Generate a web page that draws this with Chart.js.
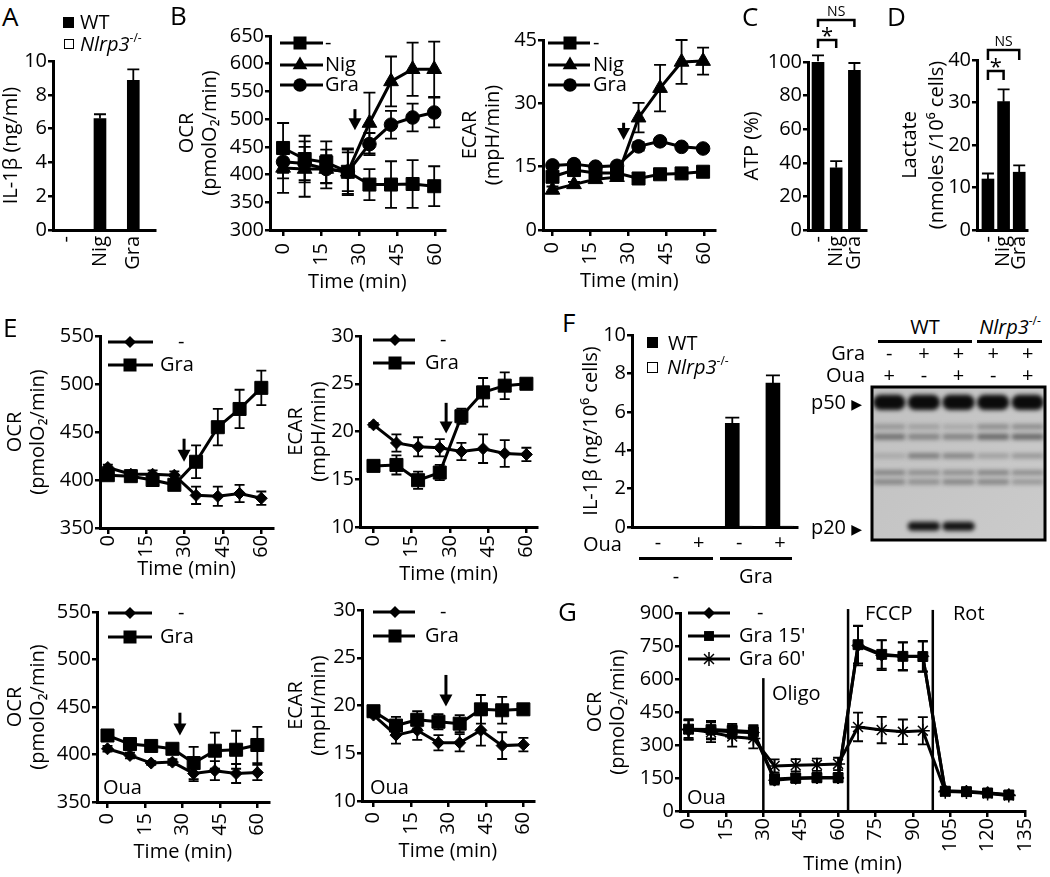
<!DOCTYPE html>
<html>
<head>
<meta charset="utf-8">
<title>Figure</title>
<script src="https://cdn.jsdelivr.net/npm/chart.js@4.4.1/dist/chart.umd.min.js"></script>
<style>
  html, body { margin: 0; background: #fff; }
  body { position: relative; width: 1050px; height: 877px; overflow: hidden; font-family: 'Open Sans', 'DejaVu Sans', sans-serif; color: #000; }
  canvas { position: absolute; }
  .t { position: absolute; font-size: 20px; line-height: 1; white-space: nowrap; }
  .t sup { font-size: 0.6em; line-height: 0; vertical-align: 0.75em; }
  .sq { position: absolute; box-sizing: border-box; background: #000; }
</style>
</head>
<body>
<script>
// ---- values ----
const minutesB = [0, 8.5, 17, 25.5, 34, 42.5, 51, 59.5];
const minutesE = [0, 9, 17.5, 26, 34.5, 43, 51.5, 60];
const minutesG = [0, 9, 17.5, 26, 34.5, 43, 51.5, 60, 68, 77.5, 86, 94, 103, 111.5, 120, 128.5];
const ticks60 = [0, 15, 30, 45, 60];
const ticks135 = [0, 15, 30, 45, 60, 75, 90, 105, 120, 135];
const treatments = ['-', 'Nig', 'Gra'];
const ouaRow = ['-', '+', '-', '+'];

// A  IL-1b
const aWT = [0, 6.6, 8.85];
const aWTErr = [0, 0.25, 0.65];
const aKO = [0, 0, 0];
const aTicks = [0, 2, 4, 6, 8, 10];

// B  OCR / ECAR
const bOcrTicks = [300, 350, 400, 450, 500, 550, 600, 650];
const bOcrCtrl = [448, 428, 422, 405, 382, 382, 383, 379];
const bOcrCtrlErr = [45, 42, 38, 42, 28, 42, 43, 36];
const bOcrNig = [412, 410, 410, 405, 493, 568, 590, 590];
const bOcrNigErr = [45, 50, 35, 40, 55, 45, 48, 50];
const bOcrGra = [423, 420, 410, 405, 455, 490, 503, 512];
const bOcrGraErr = [30, 30, 25, 35, 20, 25, 25, 27];
const bEcarTicks = [0, 15, 30, 45];
const bEcarCtrl = [12.6, 14.2, 13.5, 13.5, 12.2, 13.2, 13.4, 13.8];
const bEcarCtrlErr = [0.8, 0.8, 0.8, 0.8, 0.6, 0.6, 0.6, 0.6];
const bEcarNig = [9.5, 10.8, 12.0, 12.5, 26.6, 33.6, 39.8, 40.0];
const bEcarNigErr = [0.8, 0.6, 0.6, 0.6, 3.5, 5.5, 5.2, 3.2];
const bEcarGra = [15.3, 15.6, 15.0, 15.2, 19.8, 21.0, 19.7, 19.3];
const bEcarGraErr = [0.5, 0.5, 0.5, 0.5, 1.0, 0.8, 0.6, 0.6];

// C  ATP, D  lactate
const cAtp = [100.5, 37, 95];
const cAtpErr = [3.5, 4, 4.4];
const cTicks = [0, 20, 40, 60, 80, 100];
const dLac = [12, 30.2, 13.6];
const dLacErr = [1.3, 2.9, 1.6];
const dTicks = [0, 10, 20, 30, 40];

// E  OCR / ECAR without and with ouabain
const eOcrTicks = [350, 400, 450, 500, 550];
const eEcarTicks = [10, 15, 20, 25, 30];
const e1Ctrl = [413, 406, 406, 405, 384, 383, 386, 381];
const e1CtrlErr = [3, 4, 4, 4, 9, 10, 9, 7];
const e1Gra = [405, 404, 400, 395, 419, 455, 474, 496];
const e1GraErr = [3, 3, 3, 4, 17, 19, 20, 18];
const e2Ctrl = [20.7, 18.8, 18.4, 18.3, 17.9, 18.2, 17.7, 17.6];
const e2CtrlErr = [0.2, 0.9, 1.0, 0.9, 0.9, 1.5, 1.4, 0.7];
const e2Gra = [16.4, 16.5, 14.9, 15.7, 21.6, 24.1, 24.8, 25.0];
const e2GraErr = [0.2, 1.0, 0.9, 0.8, 0.8, 1.5, 1.4, 0.3];
const e3Ctrl = [406, 399, 391, 392, 380, 383, 380, 381];
const e3CtrlErr = [3, 3, 2, 3, 8, 10, 10, 8];
const e3Gra = [420, 411, 409, 406, 391, 404, 405, 410];
const e3GraErr = [3, 3, 3, 3, 17, 19, 20, 19];
const e4Ctrl = [19.0, 16.9, 17.4, 16.1, 16.1, 17.4, 15.8, 15.9];
const e4CtrlErr = [0.2, 0.9, 1.0, 0.8, 0.9, 1.6, 1.4, 0.7];
const e4Gra = [19.4, 17.9, 18.5, 18.3, 18.1, 19.6, 19.5, 19.6];
const e4GraErr = [0.3, 0.9, 0.9, 0.8, 0.9, 1.5, 1.4, 0.5];

// F  IL-1b with ouabain + blot
const fWT = [0, 0, 5.4, 7.5];
const fWTErr = [0, 0, 0.3, 0.4];
const fKO = [0, 0, 0.05, 0.05];
const fTicks = [0, 2, 4, 6, 8, 10];
const blotLanes = ['1', '2', '3', '4', '5'];
const blotGra = ['-', '+', '+', '+', '+'];
const blotOua = ['+', '-', '+', '-', '+'];
const bandPos = [10, 26, 32.5, 45, 56, 62, 91];       // % of gel height
const bandSize = [10, 3.5, 4, 3.5, 3.5, 3.5, 6];
const bandDensity = [
  [1, 1, 1, 1, 1],              // p50
  [0.25, 0.2, 0.15, 0.3, 0.3],
  [0.45, 0.35, 0.35, 0.5, 0.5],
  [0.15, 0.4, 0.35, 0.2, 0.25],
  [0.35, 0.3, 0.3, 0.35, 0.3],
  [0.35, 0.3, 0.35, 0.35, 0.25],
  [0, 0.95, 0.95, 0, 0]         // p20
];

// G  mito stress test
const gTicks = [0, 150, 300, 450, 600, 750, 900];
const gCtrl = [368, 366, 360, 356, 140, 148, 150, 150, 752, 708, 703, 703, 92, 89, 83, 74];
const gCtrlErr = [45, 40, 30, 30, 20, 20, 20, 20, 90, 68, 65, 70, 15, 15, 12, 15];
const gGra15 = [372, 370, 366, 360, 146, 150, 152, 152, 756, 712, 703, 702, 90, 88, 82, 73];
const gGra15Err = [45, 40, 30, 30, 20, 20, 20, 20, 85, 65, 62, 68, 15, 15, 12, 15];
const gGra60 = [372, 358, 338, 330, 205, 208, 210, 214, 382, 368, 360, 365, 88, 86, 80, 70];
const gGra60Err = [40, 45, 45, 45, 30, 28, 28, 28, 65, 60, 56, 62, 18, 15, 12, 15];

// ---- setup ----
const FONT = "'Open Sans', 'DejaVu Sans', sans-serif";
const FS = 20;
Chart.defaults.font.family = FONT;
Chart.defaults.font.size = FS;
Chart.defaults.color = '#000';
Chart.defaults.animation = false;
Chart.defaults.plugins.legend.display = false;
Chart.defaults.plugins.tooltip.enabled = false;

function mark(ctx, style, x, y, r) {
  ctx.beginPath();
  if (style == 'rect') {
    const s = r * Math.SQRT1_2;
    ctx.rect(x - s, y - s, 2 * s, 2 * s); ctx.fill();
  } else if (style == 'circle') {
    ctx.arc(x, y, r, 0, 2 * Math.PI); ctx.fill();
  } else if (style == 'triangle') {
    for (let k = 0; k < 3; k++) {
      const a = k * 2 * Math.PI / 3;
      ctx[k ? 'lineTo' : 'moveTo'](x + Math.sin(a) * r, y - Math.cos(a) * r);
    }
    ctx.closePath(); ctx.fill();
  } else if (style == 'rectRot') {
    ctx.moveTo(x - r, y); ctx.lineTo(x, y - r); ctx.lineTo(x + r, y); ctx.lineTo(x, y + r);
    ctx.closePath(); ctx.fill();
  } else if (style == 'star') {
    ctx.lineWidth = 1.5;
    for (let k = 0; k < 4; k++) {
      const a = k * Math.PI / 4;
      ctx.moveTo(x - Math.cos(a) * r, y - Math.sin(a) * r);
      ctx.lineTo(x + Math.cos(a) * r, y + Math.sin(a) * r);
    }
    ctx.stroke();
  }
}

// error bars (both ways for lines, upward only for bars)
const errorBars = {
  id: 'errorBars',
  beforeDatasetsDraw(chart) {
    const ctx = chart.ctx, ys = chart.scales.y;
    chart.data.datasets.forEach((ds, i) => {
      if (!ds.err) return;
      const pts = chart.getDatasetMeta(i).data;
      ctx.save();
      ctx.strokeStyle = '#000';
      ctx.lineWidth = 1.8;
      ds.data.forEach((d, j) => {
        const e = ds.err[j];
        if (!e) return;
        const px = pts[j].x, cap = ds.cap / 2;
        const top = ys.getPixelForValue(d.y + e);
        const bot = ds.upOnly ? ys.getPixelForValue(d.y) : ys.getPixelForValue(d.y - e);
        ctx.beginPath();
        ctx.moveTo(px, top); ctx.lineTo(px, bot);
        ctx.moveTo(px - cap, top); ctx.lineTo(px + cap, top);
        if (!ds.upOnly) { ctx.moveTo(px - cap, bot); ctx.lineTo(px + cap, bot); }
        ctx.stroke();
      });
      ctx.restore();
    });
  }
};

// arrows, injection lines, brackets, line legends, gel background
const decor = {
  id: 'decor',
  beforeDatasetsDraw(chart, args, o) {
    if (!o.gel) return;
    const {ctx, chartArea: a} = chart;
    ctx.save();
    const g = ctx.createLinearGradient(a.left, a.top, a.right, a.bottom);
    g.addColorStop(0, '#c1c1c1'); g.addColorStop(1, '#cbcbcb');
    ctx.fillStyle = g;
    ctx.fillRect(a.left, a.top, a.right - a.left, a.bottom - a.top);
    ctx.filter = 'blur(2.2px)';
  },
  afterDatasetsDraw(chart, args, o) {
    const {ctx, chartArea: a, scales} = chart;
    if (o.gel) {
      ctx.restore();
      ctx.save();
      ctx.lineWidth = 3; ctx.strokeStyle = '#000';
      ctx.strokeRect(a.left, a.top, a.right - a.left, a.bottom - a.top);
      ctx.restore();
      return;
    }
    ctx.save();
    ctx.strokeStyle = '#000'; ctx.fillStyle = '#000';
    (o.arrows || []).forEach(ar => {
      const x = scales.x.getPixelForValue(ar.x);
      const y0 = scales.y.getPixelForValue(ar.y0), y1 = scales.y.getPixelForValue(ar.y1);
      ctx.lineWidth = 3;
      ctx.beginPath(); ctx.moveTo(x, y0); ctx.lineTo(x, y1 - 9); ctx.stroke();
      ctx.beginPath(); ctx.moveTo(x - 6.5, y1 - 12); ctx.lineTo(x + 6.5, y1 - 12); ctx.lineTo(x, y1);
      ctx.closePath(); ctx.fill();
    });
    (o.vlines || []).forEach(v => {
      const x = scales.x.getPixelForValue(v.x);
      ctx.lineWidth = 2.5;
      ctx.beginPath();
      ctx.moveTo(x, scales.y.getPixelForValue(v.y0));
      ctx.lineTo(x, scales.y.getPixelForValue(v.y1));
      ctx.stroke();
    });
    (o.brackets || []).forEach(b => {
      const xa = scales.x.getPixelForValue(b.a), xb = scales.x.getPixelForValue(b.b), y = a.top + b.y;
      ctx.lineWidth = 2.5;
      ctx.beginPath();
      ctx.moveTo(xa, y + b.leg); ctx.lineTo(xa, y); ctx.lineTo(xb, y); ctx.lineTo(xb, y + b.leg);
      ctx.stroke();
      ctx.font = b.size + 'px ' + FONT;
      ctx.textAlign = 'center'; ctx.textBaseline = 'middle';
      ctx.fillText(b.label, (xa + xb) / 2, y + b.dy);
    });
    if (o.legend) {
      const L = o.legend;
      ctx.font = FS + 'px ' + FONT;
      ctx.textAlign = 'left'; ctx.textBaseline = 'middle';
      L.items.forEach(it => {
        const ds = chart.data.datasets[it.ds], y = a.top + it.y;
        ctx.lineWidth = 3;
        ctx.beginPath(); ctx.moveTo(a.left + L.x0, y); ctx.lineTo(a.left + L.x1, y); ctx.stroke();
        mark(ctx, ds.pointStyle, a.left + L.xm, y, ds.pointRadius);
        ctx.fillText(it.t, a.left + (it.xt || L.xt), y);
      });
    }
    ctx.restore();
  }
};

function linAxis(min, max, ticks, title, o = {}) {
  return {
    type: 'linear', min, max, offset: false,
    afterBuildTicks: s => { s.ticks = ticks.map(v => ({value: v})); },
    border: {display: true, width: 3, color: '#000'},
    grid: {display: o.marks !== false, drawOnChartArea: false, drawTicks: o.marks !== false,
           tickLength: o.tl || 5, lineWidth: 2.5, color: '#000', offset: false},
    ticks: {autoSkip: false, padding: o.pad ?? 1, minRotation: o.rot || 0, maxRotation: o.rot || 0,
            color: '#000', font: {size: FS},
            callback: o.names ? (v => o.names[v] ?? '') : (v => v)},
    title: title ? {display: true, text: title, color: '#000', font: {size: FS, lineHeight: o.lh || 1.15}, padding: 0}
                 : {display: false}
  };
}
const timeAxis = (min, max, pad, ticks) => linAxis(min, max, ticks || ticks60, 'Time (min)', {rot: 90, pad, tl: 6});
const catAxis = (min, max, names, rot) => linAxis(min, max, names.map((n, i) => i), null,
  {marks: false, rot: rot ?? 90, pad: rot === 0 ? 4 : 6, names});

function lineSet(label, xs, ys, err, style, r, cap) {
  return {
    type: 'line', label, data: xs.map((x, i) => ({x, y: ys[i]})), err, cap,
    borderColor: '#000', backgroundColor: '#000', borderWidth: 3, tension: 0, clip: false,
    pointStyle: style, pointRadius: r, pointHoverRadius: r, pointBorderWidth: style == 'star' ? 1.5 : 1,
    pointBackgroundColor: '#000', pointBorderColor: '#000'
  };
}
function barSet(label, vals, err, color, thick, grouped) {
  return {
    label, data: vals.map((v, i) => ({x: i, y: v})), err, upOnly: true, cap: thick,
    backgroundColor: color, borderColor: '#000', borderWidth: color == '#fff' ? 1.2 : 0,
    barThickness: thick, grouped
  };
}

// area: plot box on the page [left, top, right, bottom]; pad: room for [axis+title left, top, right, axis+title bottom]
function panel(area, pad, cfg) {
  const [l, t, r, b] = area, [pl, pt, pr, pb] = pad;
  const w = r - l + pl + pr, h = b - t + pt + pb;
  const cv = document.createElement('canvas');
  cv.width = w; cv.height = h;
  cv.style.left = (l - pl) + 'px'; cv.style.top = (t - pt) + 'px';
  cv.style.width = w + 'px'; cv.style.height = h + 'px';
  document.body.appendChild(cv);
  const o = cfg.options, sc = o.scales;
  o.responsive = false;
  if (sc.x.display === false) {
    o.layout = {padding: {left: pl, top: pt, right: pr, bottom: pb}, autoPadding: false};
  } else {
    o.layout = {padding: {left: 0, top: pt, right: pr, bottom: 0}, autoPadding: false};
    sc.x.afterFit = s => { s.height = pb; };
    sc.y.afterFit = s => { s.width = pl; };
  }
  cfg.plugins = [errorBars, decor];
  return new Chart(cv, cfg);
}

// ---- A ----
panel([53, 61, 157, 230], [53, 15, 8, 40], {
  type: 'bar',
  data: {datasets: [barSet('WT', aWT, aWTErr, '#000', 12, false), barSet('Nlrp3-/-', aKO, null, '#fff', 12, false)]},
  options: {scales: {x: catAxis(-0.41, 2.65, treatments), y: linAxis(0, 10, aTicks, 'IL-1β (ng/ml)')}}
});

// ---- B ----
panel([270, 36, 457, 230], [94, 15, 10, 64], {
  type: 'line',
  data: {datasets: [
    lineSet('-', minutesB, bOcrCtrl, bOcrCtrlErr, 'rect', 9.2, 12),
    lineSet('Nig', minutesB, bOcrNig, bOcrNigErr, 'triangle', 8.5, 12),
    lineSet('Gra', minutesB, bOcrGra, bOcrGraErr, 'circle', 6.8, 12)]},
  options: {
    scales: {x: timeAxis(-5.15, 63.7, 7), y: linAxis(300, 650, bOcrTicks, ['OCR', '(pmolO₂/min)'])},
    plugins: {decor: {arrows: [{x: 28.3, y0: 518, y1: 480}],
      legend: {x0: 10, x1: 53, xm: 30, xt: 55, items: [{ds: 0, y: 7, t: '-'}, {ds: 1, y: 29, t: 'Nig'}, {ds: 2, y: 49, t: 'Gra'}]}}}
  }
});
panel([543, 40, 725, 230], [84, 15, 10, 63], {
  type: 'line',
  data: {datasets: [
    lineSet('-', minutesB, bEcarCtrl, bEcarCtrlErr, 'rect', 9.2, 12),
    lineSet('Nig', minutesB, bEcarNig, bEcarNigErr, 'triangle', 8.5, 12),
    lineSet('Gra', minutesB, bEcarGra, bEcarGraErr, 'circle', 6.8, 12)]},
  options: {
    scales: {x: timeAxis(-3.75, 64.5, 6), y: linAxis(0, 45, bEcarTicks, ['ECAR', '(mpH/min)'])},
    plugins: {decor: {arrows: [{x: 28.1, y0: 25.4, y1: 21.3}],
      legend: {x0: 5, x1: 47, xm: 27, xt: 50, items: [{ds: 0, y: 3, t: '-'}, {ds: 1, y: 25, t: 'Nig'}, {ds: 2, y: 45, t: 'Gra'}]}}}
  }
});

// ---- C ----
panel([808, 62, 878, 230], [67, 62, 8, 40], {
  type: 'bar',
  data: {datasets: [barSet('WT', cAtp, cAtpErr, '#000', 12, false)]},
  options: {
    scales: {x: catAxis(-0.55, 2.64, treatments), y: linAxis(0, 100, cTicks, 'ATP (%)')},
    plugins: {decor: {brackets: [
      {a: 0, b: 2, y: -42, leg: 7, label: 'NS', size: 14, dy: -8},
      {a: 0, b: 1, y: -22, leg: 8, label: '*', size: 22, dy: -3}]}}
  }
});

// ---- D ----
panel([977, 60, 1045, 230], [80, 60, 5, 40], {
  type: 'bar',
  data: {datasets: [barSet('WT', dLac, dLacErr, '#000', 12, false)]},
  options: {
    scales: {x: catAxis(-0.7, 2.5, treatments), y: linAxis(0, 40, dTicks, ['Lactate', '(nmoles /10⁶ cells)'], {lh: 1.35})},
    plugins: {decor: {brackets: [
      {a: 0, b: 2, y: -10, leg: 10, label: 'NS', size: 14, dy: -8},
      {a: 0, b: 1, y: 11, leg: 9, label: '*', size: 22, dy: -3}]}}
  }
});

// ---- E ----
function ePanel(area, pad, yAxis, ctrl, ctrlErr, gra, graErr, xr, arrow, legend) {
  panel(area, pad, {
    type: 'line',
    data: {datasets: [
      lineSet('-', minutesE, ctrl, ctrlErr, 'rectRot', 6, 10),
      lineSet('Gra', minutesE, gra, graErr, 'rect', 9.2, 10)]},
    options: {scales: {x: timeAxis(xr[0], xr[1], xr[2]), y: yAxis}, plugins: {decor: {arrows: [arrow], legend}}}
  });
}
const ocrTitle = ['OCR', '(pmolO₂/min)'], ecarTitle = ['ECAR', '(mpH/min)'];
ePanel([100, 336, 277, 528], [96, 15, 10, 53], linAxis(350, 550, eOcrTicks, ocrTitle),
  e1Ctrl, e1CtrlErr, e1Gra, e1GraErr, [-3.06, 64.6, 1], {x: 29.8, y0: 443, y1: 419},
  {x0: 8, x1: 53, xm: 30, xt: 60, items: [{ds: 0, y: 6, t: '-', xt: 78}, {ds: 1, y: 29, t: 'Gra'}]});
ePanel([360, 336, 543, 527], [75, 15, 10, 59], linAxis(10, 30, eEcarTicks, ecarTitle),
  e2Ctrl, e2CtrlErr, e2Gra, e2GraErr, [-5.3, 64.2, 2], {x: 28.5, y0: 23, y1: 19.8},
  {x0: 13, x1: 55, xm: 35, xt: 65, items: [{ds: 0, y: 4, t: '-', xt: 80}, {ds: 1, y: 27, t: 'Gra'}]});
ePanel([97, 612, 277, 802], [93, 15, 10, 62], linAxis(350, 550, eOcrTicks, ocrTitle),
  e3Ctrl, e3CtrlErr, e3Gra, e3GraErr, [-4.2, 64.6, 5], {x: 29, y0: 444, y1: 420},
  {x0: 11, x1: 55, xm: 33, xt: 63, items: [{ds: 0, y: 1, t: '-', xt: 81}, {ds: 1, y: 25, t: 'Gra'}]});
ePanel([362, 610, 543, 801], [77, 15, 10, 62], linAxis(10, 30, eEcarTicks, ecarTitle),
  e4Ctrl, e4CtrlErr, e4Gra, e4GraErr, [-4.6, 64.2, 5], {x: 29, y0: 23.2, y1: 19.9},
  {x0: 11, x1: 53, xm: 33, xt: 63, items: [{ds: 0, y: 2, t: '-', xt: 78}, {ds: 1, y: 26, t: 'Gra'}]});

// ---- F ----
panel([632, 335, 797, 527], [52, 15, 10, 30], {
  type: 'bar',
  data: {datasets: [barSet('WT', fWT, fWTErr, '#000', 14, true), barSet('Nlrp3-/-', fKO, null, '#fff', 14, true)]},
  options: {scales: {x: catAxis(-0.64, 3.42, ouaRow, 0), y: linAxis(0, 10, fTicks, 'IL-1β (ng/10⁶ cells)')}}
});
const gelGray = d => { const v = Math.round(196 - d * 185); return `rgb(${v},${v},${v})`; };
panel([872, 387, 1045, 540], [3, 3, 3, 3], {
  type: 'bar',
  data: {labels: blotLanes, datasets: bandPos.map((p, b) => ({
    data: blotLanes.map((_, i) => bandDensity[b][i] > 0 ? [p - bandSize[b] / 2, p + bandSize[b] / 2] : null),
    backgroundColor: bandDensity[b].map(gelGray),
    barPercentage: 0.94, categoryPercentage: 1, grouped: false,
    borderRadius: 10, borderSkipped: false, borderWidth: 0
  }))},
  options: {
    scales: {x: {type: 'category', display: false}, y: {type: 'linear', min: 0, max: 100, reverse: true, display: false}},
    plugins: {decor: {gel: true}}
  }
});

// ---- G ----
panel([680, 613, 1042, 811], [96, 15, 8, 65], {
  type: 'line',
  data: {datasets: [
    lineSet('-', minutesG, gCtrl, gCtrlErr, 'rectRot', 6, 10),
    lineSet("Gra 15'", minutesG, gGra15, gGra15Err, 'rect', 7, 10),
    lineSet("Gra 60'", minutesG, gGra60, gGra60Err, 'star', 7, 10)]},
  options: {
    scales: {x: timeAxis(-3.44, 135, 1, ticks135), y: linAxis(0, 900, gTicks, ocrTitle)},
    plugins: {decor: {
      vlines: [{x: 30, y0: 0, y1: 604}, {x: 64, y0: 0, y1: 918}, {x: 98, y0: 0, y1: 914}],
      legend: {x0: 8, x1: 50, xm: 29, xt: 59, items: [{ds: 0, y: 0, t: '-', xt: 77}, {ds: 1, y: 23, t: "Gra 15'"}, {ds: 2, y: 46, t: "Gra 60'"}]}}}
  }
});

// ---- free text and small marks ----
function txt(html, x, y, ax = 0, size = FS) {
  const d = document.createElement('div');
  d.className = 't';
  d.innerHTML = html;
  d.style.left = x + 'px'; d.style.top = y + 'px'; d.style.fontSize = size + 'px';
  d.style.transform = `translate(${-ax * 100}%, -50%)`;
  document.body.appendChild(d);
}
function box(x, y, w, h, white) {
  const d = document.createElement('div');
  d.className = 'sq';
  d.style.cssText = `left:${x}px;top:${y}px;width:${w}px;height:${h}px` + (white ? ';background:#fff;border:1.5px solid #000' : '');
  document.body.appendChild(d);
}
const ko = '<i>Nlrp3</i><sup>-/-</sup>';
[['A', 2, 16], ['B', 170, 15], ['C', 742, 16], ['D', 887, 16], ['E', 3, 327], ['F', 562, 322], ['G', 558, 611]]
  .forEach(([s, x, y]) => txt(s, x, y, 0, 26));

box(63, 17, 11, 11); txt('WT', 80, 22);
box(64, 39, 10, 10, true); txt(ko, 80, 44);
box(647, 337, 11, 11); txt('WT', 668, 343);
box(647, 362, 11, 11, true); txt(ko, 667, 367);
txt('Oua', 583, 544);
box(639, 557, 74, 3); box(720, 557, 72, 3);
txt('-', 676, 576, 0.5); txt('Gra', 756, 576, 0.5);

box(878, 340, 94, 3); box(977, 340, 65, 3);
txt('WT', 925, 327, 0.5); txt(ko, 1010, 327, 0.5);
txt('Gra', 865, 353, 1); txt('Oua', 865, 375, 1);
blotLanes.forEach((_, i) => {
  const x = 872 + (i + 0.5) * 173 / blotLanes.length;
  txt(blotGra[i], x, 353, 0.5); txt(blotOua[i], x, 375, 0.5);
});
txt('p50 <span style="font-size:14px">▶</span>', 862, 402, 1);
txt('p20 <span style="font-size:14px">▶</span>', 862, 527, 1);

txt('Oua', 103, 787); txt('Oua', 370, 787);
txt('Oua', 687, 797); txt('Oligo', 772, 693); txt('FCCP', 865, 613); txt('Rot', 953, 613);
</script>
</body>
</html>
